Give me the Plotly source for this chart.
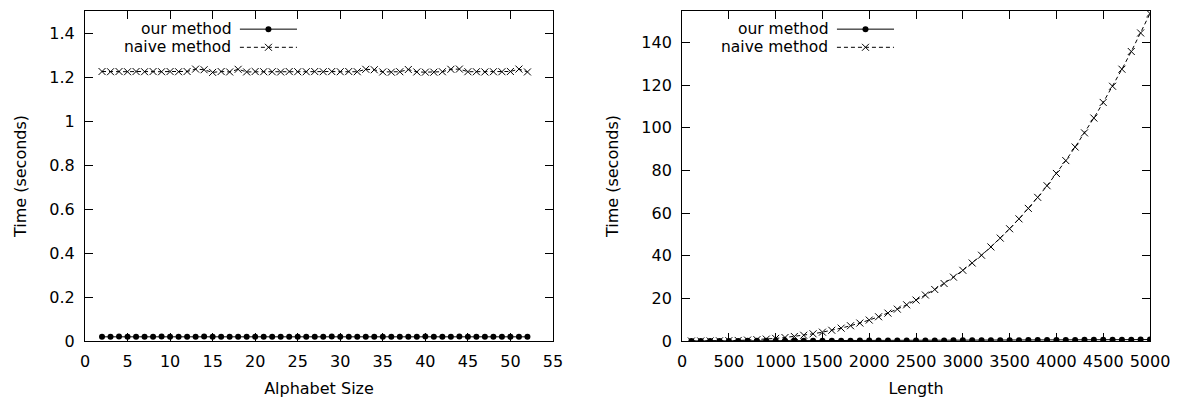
import plotly.graph_objects as go

# ---- data: runtime vs alphabet size ----
alpha_sizes = list(range(2, 53))
alpha_ours = [0.019, 0.019, 0.020, 0.019, 0.019, 0.019, 0.019, 0.020, 0.019, 0.019,
              0.019, 0.019, 0.020, 0.019, 0.019, 0.019, 0.019, 0.019, 0.019, 0.019,
              0.019, 0.019, 0.019, 0.019, 0.019, 0.019, 0.019, 0.020, 0.019, 0.019,
              0.019, 0.019, 0.019, 0.019, 0.019, 0.019, 0.019, 0.019, 0.020, 0.019,
              0.019, 0.019, 0.020, 0.019, 0.019, 0.019, 0.019, 0.019, 0.019, 0.019,
              0.019]
alpha_naive = [1.225, 1.224, 1.225, 1.224, 1.225, 1.224, 1.225, 1.224, 1.225, 1.224,
               1.225, 1.236, 1.233, 1.221, 1.225, 1.223, 1.235, 1.223, 1.225, 1.224,
               1.224, 1.223, 1.225, 1.224, 1.224, 1.225, 1.224, 1.225, 1.224, 1.225,
               1.224, 1.235, 1.233, 1.223, 1.222, 1.224, 1.234, 1.223, 1.222, 1.222,
               1.224, 1.235, 1.236, 1.224, 1.224, 1.223, 1.224, 1.224, 1.225, 1.236,
               1.223]

# ---- data: runtime vs string length ----
lengths = list(range(100, 5001, 100))
len_ours = [0.02, 0.03, 0.03, 0.04, 0.05, 0.05, 0.06, 0.07, 0.08, 0.09,
            0.10, 0.11, 0.12, 0.13, 0.14, 0.15, 0.16, 0.17, 0.18, 0.19,
            0.20, 0.21, 0.22, 0.24, 0.25, 0.26, 0.27, 0.29, 0.30, 0.31,
            0.33, 0.34, 0.36, 0.37, 0.39, 0.40, 0.42, 0.44, 0.45, 0.47,
            0.49, 0.51, 0.53, 0.55, 0.57, 0.59, 0.61, 0.63, 0.65, 0.67]
len_naive = [0.001, 0.010, 0.033, 0.079, 0.154, 0.265, 0.421, 0.629, 0.895, 1.23,
             1.63, 2.12, 2.70, 3.37, 4.15, 5.03, 6.03, 7.16, 8.42, 9.82,
             11.37, 13.08, 14.94, 16.98, 19.19, 21.58, 24.17, 26.96, 29.95, 33.16,
             36.58, 40.24, 44.13, 48.26, 52.65, 57.29, 62.20, 67.38, 72.84, 78.59,
             84.64, 90.99, 97.63, 104.6, 111.9, 119.5, 127.5, 135.8, 144.5, 153.6]

series_names = ["our method", "naive method"]

FONT = "DejaVu Sans"
FS = 16
BLACK = "#000000"

ours_marker = dict(symbol="circle", size=6, color=BLACK)
naive_marker = dict(symbol="x-thin", size=7, line=dict(color=BLACK, width=1))
ours_line = dict(color=BLACK, width=1)
naive_line = dict(color=BLACK, width=1, dash="4px,3px")

fig = go.Figure()

# left panel
fig.add_trace(go.Scatter(x=alpha_sizes, y=alpha_ours, mode="lines+markers",
                         marker=ours_marker, line=ours_line,
                         xaxis="x", yaxis="y", showlegend=False))
fig.add_trace(go.Scatter(x=alpha_sizes, y=alpha_naive, mode="lines+markers",
                         marker=naive_marker, line=naive_line,
                         xaxis="x", yaxis="y", showlegend=False))
# right panel
fig.add_trace(go.Scatter(x=lengths, y=len_ours, mode="lines+markers",
                         marker=ours_marker, line=ours_line,
                         xaxis="x2", yaxis="y2", showlegend=False))
fig.add_trace(go.Scatter(x=lengths, y=len_naive, mode="lines+markers",
                         marker=naive_marker, line=naive_line,
                         xaxis="x2", yaxis="y2", showlegend=False))

# key in each panel: label on the left, line sample on the right.
# Samples live on hidden overlay axes whose range is the panel's 0..1 domain.
key_text_right = 0.314
key_sample = (0.331, 0.453)
key_rows = [0.945, 0.890]
annotations = []
for kx, ky, xr, yr in [("x3", "y3", "x", "y"), ("x4", "y4", "x2", "y2")]:
    s0, s1 = key_sample
    mid = (s0 + s1) / 2
    for name, ry, mk, ln in zip(series_names, key_rows,
                                [ours_marker, naive_marker], [ours_line, naive_line]):
        fig.add_trace(go.Scatter(x=[s0, mid, s1], y=[ry, ry, ry], mode="lines",
                                 line=ln, xaxis=kx, yaxis=ky,
                                 showlegend=False, hoverinfo="skip"))
        fig.add_trace(go.Scatter(x=[mid], y=[ry], mode="markers", marker=mk,
                                 xaxis=kx, yaxis=ky,
                                 showlegend=False, hoverinfo="skip"))
        annotations.append(dict(x=key_text_right, y=ry,
                                xref=xr + " domain", yref=yr + " domain",
                                text=name, showarrow=False, xanchor="right",
                                yanchor="middle", borderpad=0,
                                font=dict(family=FONT, size=15.5, color=BLACK)))

axis_common = dict(showline=True, linecolor=BLACK, linewidth=1, mirror="ticks",
                   ticks="inside", ticklen=8, tickwidth=1, tickcolor=BLACK,
                   showgrid=False, zeroline=False, ticklabelstandoff=6,
                   automargin=False,
                   tickfont=dict(family=FONT, size=FS, color=BLACK))

fig.update_layout(
    width=1183, height=401,
    margin=dict(l=85, r=33, t=11, b=60, autoexpand=False),
    paper_bgcolor="white", plot_bgcolor="white",
    font=dict(family=FONT, size=FS, color=BLACK),
    annotations=annotations,
    xaxis=dict(domain=[0, 0.4394], range=[0, 55], tick0=0, dtick=5,
               title=dict(text="Alphabet Size", font=dict(family=FONT, size=FS), standoff=12),
               anchor="y", **axis_common),
    yaxis=dict(domain=[0, 1], range=[0, 1.5], tickmode="array",
               tickvals=[0, 0.2, 0.4, 0.6, 0.8, 1.0, 1.2, 1.4],
               ticktext=["0", "0.2", "0.4", "0.6", "0.8", "1", "1.2", "1.4"],
               title=dict(text="Time (seconds)", font=dict(family=FONT, size=FS), standoff=18),
               anchor="x", **axis_common),
    xaxis2=dict(domain=[0.5606, 1], range=[0, 5000], tick0=0, dtick=500,
                title=dict(text="Length", font=dict(family=FONT, size=FS), standoff=12),
                anchor="y2", **axis_common),
    yaxis2=dict(domain=[0, 1], range=[0, 154.8], tick0=0, dtick=20,
                title=dict(text="Time (seconds)", font=dict(family=FONT, size=FS), standoff=18),
                anchor="x2", **axis_common),
    xaxis3=dict(range=[0, 1], visible=False, anchor="y3", overlaying="x", fixedrange=True),
    yaxis3=dict(range=[0, 1], visible=False, anchor="x3", overlaying="y", fixedrange=True),
    xaxis4=dict(range=[0, 1], visible=False, anchor="y4", overlaying="x2", fixedrange=True),
    yaxis4=dict(range=[0, 1], visible=False, anchor="x4", overlaying="y2", fixedrange=True),
)

fig.write_html("out.html")
